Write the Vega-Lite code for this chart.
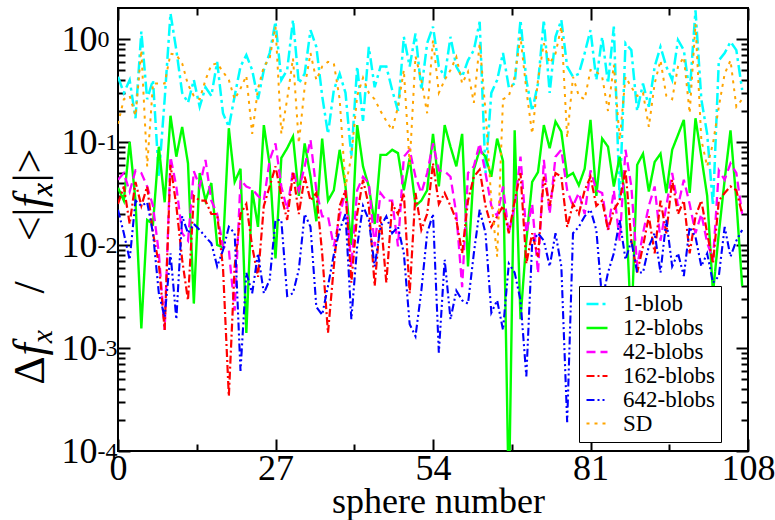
{
"$schema": "https://vega.github.io/schema/vega-lite/v6.json",
"width": 630, "height": 443,
"autosize": {"type": "none"},
"padding": {"left": 118, "top": 8, "right": 27, "bottom": 69},
"background": "white",
"config": {
  "font": "Liberation Serif",
  "style": {"guide-label": {"font": "Liberation Serif"}, "guide-title": {"font": "Liberation Serif"}},
  "view": {"stroke": "black", "strokeWidth": 2},
  "axis": {"grid": false, "domain": false, "labelFont": "Liberation Serif", "titleFont": "Liberation Serif", "labelColor": "black", "titleColor": "black", "tickColor": "black", "tickWidth": 2, "titleFontWeight": "normal", "labelOverlap": false},
  "legend": {"orient": "none", "legendX": 461, "legendY": 278}
},
"data": {"values": [
{"n":0,"s":"1-blob","v":0.43},{"n":1,"s":"1-blob","v":0.30},{"n":2,"s":"1-blob","v":0.40},{"n":3,"s":"1-blob","v":0.17},{"n":4,"s":"1-blob","v":1.18},{"n":5,"s":"1-blob","v":0.26},{"n":6,"s":"1-blob","v":0.40},{"n":7,"s":"1-blob","v":0.046},{"n":8,"s":"1-blob","v":0.26},{"n":9,"s":"1-blob","v":1.77},
{"n":10,"s":"1-blob","v":0.78},{"n":11,"s":"1-blob","v":0.30},{"n":12,"s":"1-blob","v":0.24},{"n":13,"s":"1-blob","v":0.40},{"n":14,"s":"1-blob","v":0.22},{"n":15,"s":"1-blob","v":0.34},{"n":16,"s":"1-blob","v":0.28},{"n":17,"s":"1-blob","v":0.60},{"n":18,"s":"1-blob","v":0.19},{"n":19,"s":"1-blob","v":0.14},
{"n":20,"s":"1-blob","v":0.28},{"n":21,"s":"1-blob","v":0.54},{"n":22,"s":"1-blob","v":0.70},{"n":23,"s":"1-blob","v":0.50},{"n":24,"s":"1-blob","v":0.26},{"n":25,"s":"1-blob","v":0.50},{"n":26,"s":"1-blob","v":0.73},{"n":27,"s":"1-blob","v":1.47},{"n":28,"s":"1-blob","v":0.40},{"n":29,"s":"1-blob","v":0.50},
{"n":30,"s":"1-blob","v":1.53},{"n":31,"s":"1-blob","v":0.37},{"n":32,"s":"1-blob","v":0.46},{"n":33,"s":"1-blob","v":1.22},{"n":34,"s":"1-blob","v":0.84},{"n":35,"s":"1-blob","v":0.28},{"n":36,"s":"1-blob","v":0.12},{"n":37,"s":"1-blob","v":0.32},{"n":38,"s":"1-blob","v":0.46},{"n":39,"s":"1-blob","v":0.30},
{"n":40,"s":"1-blob","v":0.072},{"n":41,"s":"1-blob","v":0.54},{"n":42,"s":"1-blob","v":0.16},{"n":43,"s":"1-blob","v":0.84},{"n":44,"s":"1-blob","v":0.34},{"n":45,"s":"1-blob","v":0.54},{"n":46,"s":"1-blob","v":0.54},{"n":47,"s":"1-blob","v":0.32},{"n":48,"s":"1-blob","v":0.20},{"n":49,"s":"1-blob","v":1.05},
{"n":50,"s":"1-blob","v":0.54},{"n":51,"s":"1-blob","v":1.13},{"n":52,"s":"1-blob","v":0.32},{"n":53,"s":"1-blob","v":0.91},{"n":54,"s":"1-blob","v":1.32},{"n":55,"s":"1-blob","v":0.54},{"n":56,"s":"1-blob","v":0.43},{"n":57,"s":"1-blob","v":1.05},{"n":58,"s":"1-blob","v":0.54},{"n":59,"s":"1-blob","v":0.43},
{"n":60,"s":"1-blob","v":0.62},{"n":61,"s":"1-blob","v":0.78},{"n":62,"s":"1-blob","v":1.47},{"n":63,"s":"1-blob","v":0.05},{"n":64,"s":"1-blob","v":0.30},{"n":65,"s":"1-blob","v":0.40},{"n":66,"s":"1-blob","v":0.73},{"n":67,"s":"1-blob","v":0.34},{"n":68,"s":"1-blob","v":0.37},{"n":69,"s":"1-blob","v":1.53},
{"n":70,"s":"1-blob","v":0.40},{"n":71,"s":"1-blob","v":0.20},{"n":72,"s":"1-blob","v":0.37},{"n":73,"s":"1-blob","v":1.53},{"n":74,"s":"1-blob","v":0.30},{"n":75,"s":"1-blob","v":1.05},{"n":76,"s":"1-blob","v":1.53},{"n":77,"s":"1-blob","v":0.54},{"n":78,"s":"1-blob","v":0.43},{"n":79,"s":"1-blob","v":0.46},
{"n":80,"s":"1-blob","v":0.73},{"n":81,"s":"1-blob","v":1.22},{"n":82,"s":"1-blob","v":0.40},{"n":83,"s":"1-blob","v":1.05},{"n":84,"s":"1-blob","v":0.37},{"n":85,"s":"1-blob","v":1.32},{"n":86,"s":"1-blob","v":0.027},{"n":87,"s":"1-blob","v":0.91},{"n":88,"s":"1-blob","v":0.78},{"n":89,"s":"1-blob","v":0.20},
{"n":90,"s":"1-blob","v":0.37},{"n":91,"s":"1-blob","v":0.22},{"n":92,"s":"1-blob","v":0.54},{"n":93,"s":"1-blob","v":0.84},{"n":94,"s":"1-blob","v":0.54},{"n":95,"s":"1-blob","v":0.40},{"n":96,"s":"1-blob","v":0.98},{"n":97,"s":"1-blob","v":0.78},{"n":98,"s":"1-blob","v":0.30},{"n":99,"s":"1-blob","v":1.9},
{"n":100,"s":"1-blob","v":0.26},{"n":101,"s":"1-blob","v":0.12},{"n":102,"s":"1-blob","v":0.024},{"n":103,"s":"1-blob","v":0.62},{"n":104,"s":"1-blob","v":0.73},{"n":105,"s":"1-blob","v":0.94},{"n":106,"s":"1-blob","v":0.78},{"n":107,"s":"1-blob","v":0.32},
{"n":0,"s":"12-blobs","v":0.036},{"n":1,"s":"12-blobs","v":0.027},{"n":2,"s":"12-blobs","v":0.10},{"n":3,"s":"12-blobs","v":0.027},{"n":4,"s":"12-blobs","v":0.00155},{"n":5,"s":"12-blobs","v":0.0175},{"n":6,"s":"12-blobs","v":0.016},{"n":7,"s":"12-blobs","v":0.09},{"n":8,"s":"12-blobs","v":0.026},{"n":9,"s":"12-blobs","v":0.18},
{"n":10,"s":"12-blobs","v":0.072},{"n":11,"s":"12-blobs","v":0.14},{"n":12,"s":"12-blobs","v":0.062},{"n":13,"s":"12-blobs","v":0.0027},{"n":14,"s":"12-blobs","v":0.05},{"n":15,"s":"12-blobs","v":0.027},{"n":16,"s":"12-blobs","v":0.04},{"n":17,"s":"12-blobs","v":0.01},{"n":18,"s":"12-blobs","v":0.0095},{"n":19,"s":"12-blobs","v":0.136},
{"n":20,"s":"12-blobs","v":0.041},{"n":21,"s":"12-blobs","v":0.055},{"n":22,"s":"12-blobs","v":0.0014},{"n":23,"s":"12-blobs","v":0.034},{"n":24,"s":"12-blobs","v":0.015},{"n":25,"s":"12-blobs","v":0.146},{"n":26,"s":"12-blobs","v":0.06},{"n":27,"s":"12-blobs","v":0.0074},{"n":28,"s":"12-blobs","v":0.07},{"n":29,"s":"12-blobs","v":0.087},
{"n":30,"s":"12-blobs","v":0.113},{"n":31,"s":"12-blobs","v":0.03},{"n":32,"s":"12-blobs","v":0.097},{"n":33,"s":"12-blobs","v":0.046},{"n":34,"s":"12-blobs","v":0.017},{"n":35,"s":"12-blobs","v":0.108},{"n":36,"s":"12-blobs","v":0.027},{"n":37,"s":"12-blobs","v":0.034},{"n":38,"s":"12-blobs","v":0.084},{"n":39,"s":"12-blobs","v":0.037},
{"n":40,"s":"12-blobs","v":0.01},{"n":41,"s":"12-blobs","v":0.146},{"n":42,"s":"12-blobs","v":0.058},{"n":43,"s":"12-blobs","v":0.037},{"n":44,"s":"12-blobs","v":0.016},{"n":45,"s":"12-blobs","v":0.075},{"n":46,"s":"12-blobs","v":0.075},{"n":47,"s":"12-blobs","v":0.084},{"n":48,"s":"12-blobs","v":0.078},{"n":49,"s":"12-blobs","v":0.034},
{"n":50,"s":"12-blobs","v":0.07},{"n":51,"s":"12-blobs","v":0.024},{"n":52,"s":"12-blobs","v":0.027},{"n":53,"s":"12-blobs","v":0.034},{"n":54,"s":"12-blobs","v":0.12},{"n":55,"s":"12-blobs","v":0.037},{"n":56,"s":"12-blobs","v":0.146},{"n":57,"s":"12-blobs","v":0.09},{"n":58,"s":"12-blobs","v":0.058},{"n":59,"s":"12-blobs","v":0.12},
{"n":60,"s":"12-blobs","v":0.0062},{"n":61,"s":"12-blobs","v":0.054},{"n":62,"s":"12-blobs","v":0.084},{"n":63,"s":"12-blobs","v":0.072},{"n":64,"s":"12-blobs","v":0.046},{"n":65,"s":"12-blobs","v":0.108},{"n":66,"s":"12-blobs","v":0.065},{"n":67,"s":"12-blobs","v":0.00003},{"n":68,"s":"12-blobs","v":0.13},{"n":69,"s":"12-blobs","v":0.0019},
{"n":70,"s":"12-blobs","v":0.011},{"n":71,"s":"12-blobs","v":0.041},{"n":72,"s":"12-blobs","v":0.051},{"n":73,"s":"12-blobs","v":0.146},{"n":74,"s":"12-blobs","v":0.087},{"n":75,"s":"12-blobs","v":0.158},{"n":76,"s":"12-blobs","v":0.126},{"n":77,"s":"12-blobs","v":0.046},{"n":78,"s":"12-blobs","v":0.05},{"n":79,"s":"12-blobs","v":0.038},
{"n":80,"s":"12-blobs","v":0.055},{"n":81,"s":"12-blobs","v":0.164},{"n":82,"s":"12-blobs","v":0.03},{"n":83,"s":"12-blobs","v":0.108},{"n":84,"s":"12-blobs","v":0.09},{"n":85,"s":"12-blobs","v":0.037},{"n":86,"s":"12-blobs","v":0.072},{"n":87,"s":"12-blobs","v":0.027},{"n":88,"s":"12-blobs","v":0.0015},{"n":89,"s":"12-blobs","v":0.06},
{"n":90,"s":"12-blobs","v":0.077},{"n":91,"s":"12-blobs","v":0.033},{"n":92,"s":"12-blobs","v":0.064},{"n":93,"s":"12-blobs","v":0.077},{"n":94,"s":"12-blobs","v":0.032},{"n":95,"s":"12-blobs","v":0.084},{"n":96,"s":"12-blobs","v":0.117},{"n":97,"s":"12-blobs","v":0.164},{"n":98,"s":"12-blobs","v":0.032},{"n":99,"s":"12-blobs","v":0.17},
{"n":100,"s":"12-blobs","v":0.072},{"n":101,"s":"12-blobs","v":0.03},{"n":102,"s":"12-blobs","v":0.0034},{"n":103,"s":"12-blobs","v":0.013},{"n":104,"s":"12-blobs","v":0.043},{"n":105,"s":"12-blobs","v":0.13},{"n":106,"s":"12-blobs","v":0.027},{"n":107,"s":"12-blobs","v":0.004},
{"n":0,"s":"42-blobs","v":0.043},{"n":1,"s":"42-blobs","v":0.05},{"n":2,"s":"42-blobs","v":0.033},{"n":3,"s":"42-blobs","v":0.053},{"n":4,"s":"42-blobs","v":0.05},{"n":5,"s":"42-blobs","v":0.037},{"n":6,"s":"42-blobs","v":0.024},{"n":7,"s":"42-blobs","v":0.0083},{"n":8,"s":"42-blobs","v":0.0015},{"n":9,"s":"42-blobs","v":0.072},
{"n":10,"s":"42-blobs","v":0.037},{"n":11,"s":"42-blobs","v":0.013},{"n":12,"s":"42-blobs","v":0.011},{"n":13,"s":"42-blobs","v":0.052},{"n":14,"s":"42-blobs","v":0.037},{"n":15,"s":"42-blobs","v":0.067},{"n":16,"s":"42-blobs","v":0.027},{"n":17,"s":"42-blobs","v":0.02},{"n":18,"s":"42-blobs","v":0.0097},{"n":19,"s":"42-blobs","v":0.009},
{"n":20,"s":"42-blobs","v":0.0023},{"n":21,"s":"42-blobs","v":0.043},{"n":22,"s":"42-blobs","v":0.037},{"n":23,"s":"42-blobs","v":0.035},{"n":24,"s":"42-blobs","v":0.03},{"n":25,"s":"42-blobs","v":0.027},{"n":26,"s":"42-blobs","v":0.067},{"n":27,"s":"42-blobs","v":0.097},{"n":28,"s":"42-blobs","v":0.037},{"n":29,"s":"42-blobs","v":0.022},
{"n":30,"s":"42-blobs","v":0.053},{"n":31,"s":"42-blobs","v":0.034},{"n":32,"s":"42-blobs","v":0.058},{"n":33,"s":"42-blobs","v":0.105},{"n":34,"s":"42-blobs","v":0.034},{"n":35,"s":"42-blobs","v":0.019},{"n":36,"s":"42-blobs","v":0.019},{"n":37,"s":"42-blobs","v":0.0097},{"n":38,"s":"42-blobs","v":0.019},{"n":39,"s":"42-blobs","v":0.034},
{"n":40,"s":"42-blobs","v":0.0062},{"n":41,"s":"42-blobs","v":0.034},{"n":42,"s":"42-blobs","v":0.046},{"n":43,"s":"42-blobs","v":0.04},{"n":44,"s":"42-blobs","v":0.0097},{"n":45,"s":"42-blobs","v":0.032},{"n":46,"s":"42-blobs","v":0.027},{"n":47,"s":"42-blobs","v":0.027},{"n":48,"s":"42-blobs","v":0.0097},{"n":49,"s":"42-blobs","v":0.072},
{"n":50,"s":"42-blobs","v":0.084},{"n":51,"s":"42-blobs","v":0.046},{"n":52,"s":"42-blobs","v":0.032},{"n":53,"s":"42-blobs","v":0.05},{"n":54,"s":"42-blobs","v":0.097},{"n":55,"s":"42-blobs","v":0.053},{"n":56,"s":"42-blobs","v":0.052},{"n":57,"s":"42-blobs","v":0.046},{"n":58,"s":"42-blobs","v":0.02},{"n":59,"s":"42-blobs","v":0.0039},
{"n":60,"s":"42-blobs","v":0.05},{"n":61,"s":"42-blobs","v":0.058},{"n":62,"s":"42-blobs","v":0.097},{"n":63,"s":"42-blobs","v":0.05},{"n":64,"s":"42-blobs","v":0.024},{"n":65,"s":"42-blobs","v":0.019},{"n":66,"s":"42-blobs","v":0.037},{"n":67,"s":"42-blobs","v":0.013},{"n":68,"s":"42-blobs","v":0.024},{"n":69,"s":"42-blobs","v":0.072},
{"n":70,"s":"42-blobs","v":0.013},{"n":71,"s":"42-blobs","v":0.025},{"n":72,"s":"42-blobs","v":0.0053},{"n":73,"s":"42-blobs","v":0.067},{"n":74,"s":"42-blobs","v":0.02},{"n":75,"s":"42-blobs","v":0.072},{"n":76,"s":"42-blobs","v":0.084},{"n":77,"s":"42-blobs","v":0.034},{"n":78,"s":"42-blobs","v":0.024},{"n":79,"s":"42-blobs","v":0.032},
{"n":80,"s":"42-blobs","v":0.02},{"n":81,"s":"42-blobs","v":0.053},{"n":82,"s":"42-blobs","v":0.034},{"n":83,"s":"42-blobs","v":0.032},{"n":84,"s":"42-blobs","v":0.014},{"n":85,"s":"42-blobs","v":0.034},{"n":86,"s":"42-blobs","v":0.011},{"n":87,"s":"42-blobs","v":0.084},{"n":88,"s":"42-blobs","v":0.037},{"n":89,"s":"42-blobs","v":0.0062},
{"n":90,"s":"42-blobs","v":0.013},{"n":91,"s":"42-blobs","v":0.024},{"n":92,"s":"42-blobs","v":0.037},{"n":93,"s":"42-blobs","v":0.011},{"n":94,"s":"42-blobs","v":0.024},{"n":95,"s":"42-blobs","v":0.05},{"n":96,"s":"42-blobs","v":0.024},{"n":97,"s":"42-blobs","v":0.043},{"n":98,"s":"42-blobs","v":0.025},{"n":99,"s":"42-blobs","v":0.013},
{"n":100,"s":"42-blobs","v":0.02},{"n":101,"s":"42-blobs","v":0.0105},{"n":102,"s":"42-blobs","v":0.0072},{"n":103,"s":"42-blobs","v":0.053},{"n":104,"s":"42-blobs","v":0.043},{"n":105,"s":"42-blobs","v":0.062},{"n":106,"s":"42-blobs","v":0.05},{"n":107,"s":"42-blobs","v":0.02},
{"n":0,"s":"162-blobs","v":0.025},{"n":1,"s":"162-blobs","v":0.037},{"n":2,"s":"162-blobs","v":0.016},{"n":3,"s":"162-blobs","v":0.041},{"n":4,"s":"162-blobs","v":0.024},{"n":5,"s":"162-blobs","v":0.037},{"n":6,"s":"162-blobs","v":0.013},{"n":7,"s":"162-blobs","v":0.0066},{"n":8,"s":"162-blobs","v":0.0015},{"n":9,"s":"162-blobs","v":0.06},
{"n":10,"s":"162-blobs","v":0.024},{"n":11,"s":"162-blobs","v":0.0072},{"n":12,"s":"162-blobs","v":0.0029},{"n":13,"s":"162-blobs","v":0.03},{"n":14,"s":"162-blobs","v":0.027},{"n":15,"s":"162-blobs","v":0.027},{"n":16,"s":"162-blobs","v":0.02},{"n":17,"s":"162-blobs","v":0.02},{"n":18,"s":"162-blobs","v":0.006},{"n":19,"s":"162-blobs","v":0.00034},
{"n":20,"s":"162-blobs","v":0.0062},{"n":21,"s":"162-blobs","v":0.02},{"n":22,"s":"162-blobs","v":0.025},{"n":23,"s":"162-blobs","v":0.0097},{"n":24,"s":"162-blobs","v":0.0049},{"n":25,"s":"162-blobs","v":0.024},{"n":26,"s":"162-blobs","v":0.037},{"n":27,"s":"162-blobs","v":0.058},{"n":28,"s":"162-blobs","v":0.03},{"n":29,"s":"162-blobs","v":0.0175},
{"n":30,"s":"162-blobs","v":0.05},{"n":31,"s":"162-blobs","v":0.02},{"n":32,"s":"162-blobs","v":0.046},{"n":33,"s":"162-blobs","v":0.027},{"n":34,"s":"162-blobs","v":0.032},{"n":35,"s":"162-blobs","v":0.0083},{"n":36,"s":"162-blobs","v":0.0014},{"n":37,"s":"162-blobs","v":0.0062},{"n":38,"s":"162-blobs","v":0.024},{"n":39,"s":"162-blobs","v":0.034},
{"n":40,"s":"162-blobs","v":0.0043},{"n":41,"s":"162-blobs","v":0.02},{"n":42,"s":"162-blobs","v":0.043},{"n":43,"s":"162-blobs","v":0.024},{"n":44,"s":"162-blobs","v":0.004},{"n":45,"s":"162-blobs","v":0.019},{"n":46,"s":"162-blobs","v":0.0043},{"n":47,"s":"162-blobs","v":0.025},{"n":48,"s":"162-blobs","v":0.02},{"n":49,"s":"162-blobs","v":0.032},
{"n":50,"s":"162-blobs","v":0.0034},{"n":51,"s":"162-blobs","v":0.032},{"n":52,"s":"162-blobs","v":0.014},{"n":53,"s":"162-blobs","v":0.02},{"n":54,"s":"162-blobs","v":0.062},{"n":55,"s":"162-blobs","v":0.025},{"n":56,"s":"162-blobs","v":0.032},{"n":57,"s":"162-blobs","v":0.024},{"n":58,"s":"162-blobs","v":0.0175},{"n":59,"s":"162-blobs","v":0.0083},
{"n":60,"s":"162-blobs","v":0.027},{"n":61,"s":"162-blobs","v":0.046},{"n":62,"s":"162-blobs","v":0.054},{"n":63,"s":"162-blobs","v":0.024},{"n":64,"s":"162-blobs","v":0.015},{"n":65,"s":"162-blobs","v":0.019},{"n":66,"s":"162-blobs","v":0.024},{"n":67,"s":"162-blobs","v":0.013},{"n":68,"s":"162-blobs","v":0.027},{"n":69,"s":"162-blobs","v":0.05},
{"n":70,"s":"162-blobs","v":0.0066},{"n":71,"s":"162-blobs","v":0.013},{"n":72,"s":"162-blobs","v":0.0077},{"n":73,"s":"162-blobs","v":0.046},{"n":74,"s":"162-blobs","v":0.024},{"n":75,"s":"162-blobs","v":0.05},{"n":76,"s":"162-blobs","v":0.046},{"n":77,"s":"162-blobs","v":0.015},{"n":78,"s":"162-blobs","v":0.025},{"n":79,"s":"162-blobs","v":0.02},
{"n":80,"s":"162-blobs","v":0.034},{"n":81,"s":"162-blobs","v":0.046},{"n":82,"s":"162-blobs","v":0.024},{"n":83,"s":"162-blobs","v":0.027},{"n":84,"s":"162-blobs","v":0.014},{"n":85,"s":"162-blobs","v":0.022},{"n":86,"s":"162-blobs","v":0.027},{"n":87,"s":"162-blobs","v":0.054},{"n":88,"s":"162-blobs","v":0.011},{"n":89,"s":"162-blobs","v":0.0054},
{"n":90,"s":"162-blobs","v":0.0097},{"n":91,"s":"162-blobs","v":0.019},{"n":92,"s":"162-blobs","v":0.0083},{"n":93,"s":"162-blobs","v":0.027},{"n":94,"s":"162-blobs","v":0.013},{"n":95,"s":"162-blobs","v":0.043},{"n":96,"s":"162-blobs","v":0.02},{"n":97,"s":"162-blobs","v":0.027},{"n":98,"s":"162-blobs","v":0.0083},{"n":99,"s":"162-blobs","v":0.019},
{"n":100,"s":"162-blobs","v":0.027},{"n":101,"s":"162-blobs","v":0.013},{"n":102,"s":"162-blobs","v":0.0066},{"n":103,"s":"162-blobs","v":0.027},{"n":104,"s":"162-blobs","v":0.032},{"n":105,"s":"162-blobs","v":0.037},{"n":106,"s":"162-blobs","v":0.034},{"n":107,"s":"162-blobs","v":0.02},
{"n":0,"s":"642-blobs","v":0.022},{"n":1,"s":"642-blobs","v":0.013},{"n":2,"s":"642-blobs","v":0.0072},{"n":3,"s":"642-blobs","v":0.027},{"n":4,"s":"642-blobs","v":0.024},{"n":5,"s":"642-blobs","v":0.026},{"n":6,"s":"642-blobs","v":0.013},{"n":7,"s":"642-blobs","v":0.0034},{"n":8,"s":"642-blobs","v":0.002},{"n":9,"s":"642-blobs","v":0.0083},
{"n":10,"s":"642-blobs","v":0.0019},{"n":11,"s":"642-blobs","v":0.019},{"n":12,"s":"642-blobs","v":0.013},{"n":13,"s":"642-blobs","v":0.016},{"n":14,"s":"642-blobs","v":0.014},{"n":15,"s":"642-blobs","v":0.012},{"n":16,"s":"642-blobs","v":0.0104},{"n":17,"s":"642-blobs","v":0.0062},{"n":18,"s":"642-blobs","v":0.0089},{"n":19,"s":"642-blobs","v":0.015},
{"n":20,"s":"642-blobs","v":0.013},{"n":21,"s":"642-blobs","v":0.0006},{"n":22,"s":"642-blobs","v":0.0054},{"n":23,"s":"642-blobs","v":0.0034},{"n":24,"s":"642-blobs","v":0.0083},{"n":25,"s":"642-blobs","v":0.0034},{"n":26,"s":"642-blobs","v":0.0046},{"n":27,"s":"642-blobs","v":0.0175},{"n":28,"s":"642-blobs","v":0.0175},{"n":29,"s":"642-blobs","v":0.0032},
{"n":30,"s":"642-blobs","v":0.0034},{"n":31,"s":"642-blobs","v":0.0058},{"n":32,"s":"642-blobs","v":0.02},{"n":33,"s":"642-blobs","v":0.015},{"n":34,"s":"642-blobs","v":0.0025},{"n":35,"s":"642-blobs","v":0.0021},{"n":36,"s":"642-blobs","v":0.004},{"n":37,"s":"642-blobs","v":0.0081},{"n":38,"s":"642-blobs","v":0.014},{"n":39,"s":"642-blobs","v":0.02},
{"n":40,"s":"642-blobs","v":0.0019},{"n":41,"s":"642-blobs","v":0.0097},{"n":42,"s":"642-blobs","v":0.024},{"n":43,"s":"642-blobs","v":0.0175},{"n":44,"s":"642-blobs","v":0.0062},{"n":45,"s":"642-blobs","v":0.015},{"n":46,"s":"642-blobs","v":0.019},{"n":47,"s":"642-blobs","v":0.013},{"n":48,"s":"642-blobs","v":0.015},{"n":49,"s":"642-blobs","v":0.0083},
{"n":50,"s":"642-blobs","v":0.0017},{"n":51,"s":"642-blobs","v":0.0013},{"n":52,"s":"642-blobs","v":0.0036},{"n":53,"s":"642-blobs","v":0.013},{"n":54,"s":"642-blobs","v":0.02},{"n":55,"s":"642-blobs","v":0.0009},{"n":56,"s":"642-blobs","v":0.0072},{"n":57,"s":"642-blobs","v":0.0019},{"n":58,"s":"642-blobs","v":0.0036},{"n":59,"s":"642-blobs","v":0.0029},
{"n":60,"s":"642-blobs","v":0.0027},{"n":61,"s":"642-blobs","v":0.0083},{"n":62,"s":"642-blobs","v":0.022},{"n":63,"s":"642-blobs","v":0.013},{"n":64,"s":"642-blobs","v":0.0022},{"n":65,"s":"642-blobs","v":0.0029},{"n":66,"s":"642-blobs","v":0.0015},{"n":67,"s":"642-blobs","v":0.0066},{"n":68,"s":"642-blobs","v":0.0054},{"n":69,"s":"642-blobs","v":0.0029},
{"n":70,"s":"642-blobs","v":0.00053},{"n":71,"s":"642-blobs","v":0.0104},{"n":72,"s":"642-blobs","v":0.013},{"n":73,"s":"642-blobs","v":0.011},{"n":74,"s":"642-blobs","v":0.0062},{"n":75,"s":"642-blobs","v":0.013},{"n":76,"s":"642-blobs","v":0.0062},{"n":77,"s":"642-blobs","v":0.00019},{"n":78,"s":"642-blobs","v":0.013},{"n":79,"s":"642-blobs","v":0.015},
{"n":80,"s":"642-blobs","v":0.019},{"n":81,"s":"642-blobs","v":0.022},{"n":82,"s":"642-blobs","v":0.014},{"n":83,"s":"642-blobs","v":0.0029},{"n":84,"s":"642-blobs","v":0.0054},{"n":85,"s":"642-blobs","v":0.0083},{"n":86,"s":"642-blobs","v":0.0175},{"n":87,"s":"642-blobs","v":0.0072},{"n":88,"s":"642-blobs","v":0.011},{"n":89,"s":"642-blobs","v":0.0054},
{"n":90,"s":"642-blobs","v":0.0054},{"n":91,"s":"642-blobs","v":0.0097},{"n":92,"s":"642-blobs","v":0.013},{"n":93,"s":"642-blobs","v":0.0054},{"n":94,"s":"642-blobs","v":0.0175},{"n":95,"s":"642-blobs","v":0.0062},{"n":96,"s":"642-blobs","v":0.0083},{"n":97,"s":"642-blobs","v":0.005},{"n":98,"s":"642-blobs","v":0.015},{"n":99,"s":"642-blobs","v":0.012},
{"n":100,"s":"642-blobs","v":0.0062},{"n":101,"s":"642-blobs","v":0.0083},{"n":102,"s":"642-blobs","v":0.0043},{"n":103,"s":"642-blobs","v":0.005},{"n":104,"s":"642-blobs","v":0.015},{"n":105,"s":"642-blobs","v":0.0077},{"n":106,"s":"642-blobs","v":0.011},{"n":107,"s":"642-blobs","v":0.014},
{"n":0,"s":"SD","v":0.15},{"n":1,"s":"SD","v":0.26},{"n":2,"s":"SD","v":0.28},{"n":3,"s":"SD","v":0.18},{"n":4,"s":"SD","v":0.78},{"n":5,"s":"SD","v":0.058},{"n":6,"s":"SD","v":0.37},{"n":7,"s":"SD","v":0.37},{"n":8,"s":"SD","v":0.37},{"n":9,"s":"SD","v":0.72},
{"n":10,"s":"SD","v":0.70},{"n":11,"s":"SD","v":0.58},{"n":12,"s":"SD","v":0.36},{"n":13,"s":"SD","v":0.28},{"n":14,"s":"SD","v":0.26},{"n":15,"s":"SD","v":0.40},{"n":16,"s":"SD","v":0.56},{"n":17,"s":"SD","v":0.58},{"n":18,"s":"SD","v":0.48},{"n":19,"s":"SD","v":0.40},
{"n":20,"s":"SD","v":0.26},{"n":21,"s":"SD","v":0.33},{"n":22,"s":"SD","v":0.44},{"n":23,"s":"SD","v":0.12},{"n":24,"s":"SD","v":0.33},{"n":25,"s":"SD","v":0.54},{"n":26,"s":"SD","v":0.65},{"n":27,"s":"SD","v":1.32},{"n":28,"s":"SD","v":0.12},{"n":29,"s":"SD","v":0.26},
{"n":30,"s":"SD","v":0.65},{"n":31,"s":"SD","v":0.097},{"n":32,"s":"SD","v":0.34},{"n":33,"s":"SD","v":0.73},{"n":34,"s":"SD","v":0.40},{"n":35,"s":"SD","v":0.54},{"n":36,"s":"SD","v":0.60},{"n":37,"s":"SD","v":0.58},{"n":38,"s":"SD","v":0.26},{"n":39,"s":"SD","v":0.037},
{"n":40,"s":"SD","v":0.072},{"n":41,"s":"SD","v":0.28},{"n":42,"s":"SD","v":0.42},{"n":43,"s":"SD","v":0.30},{"n":44,"s":"SD","v":0.26},{"n":45,"s":"SD","v":0.20},{"n":46,"s":"SD","v":0.16},{"n":47,"s":"SD","v":0.13},{"n":48,"s":"SD","v":0.22},{"n":49,"s":"SD","v":0.50},
{"n":50,"s":"SD","v":0.06},{"n":51,"s":"SD","v":0.68},{"n":52,"s":"SD","v":0.40},{"n":53,"s":"SD","v":0.19},{"n":54,"s":"SD","v":0.98},{"n":55,"s":"SD","v":0.30},{"n":56,"s":"SD","v":0.40},{"n":57,"s":"SD","v":0.50},{"n":58,"s":"SD","v":0.67},{"n":59,"s":"SD","v":0.37},
{"n":60,"s":"SD","v":0.48},{"n":61,"s":"SD","v":0.24},{"n":62,"s":"SD","v":0.91},{"n":63,"s":"SD","v":0.20},{"n":64,"s":"SD","v":0.027},{"n":65,"s":"SD","v":0.0077},{"n":66,"s":"SD","v":0.26},{"n":67,"s":"SD","v":0.28},{"n":68,"s":"SD","v":0.43},{"n":69,"s":"SD","v":1.05},
{"n":70,"s":"SD","v":0.32},{"n":71,"s":"SD","v":0.12},{"n":72,"s":"SD","v":0.40},{"n":73,"s":"SD","v":0.91},{"n":74,"s":"SD","v":0.58},{"n":75,"s":"SD","v":0.72},{"n":76,"s":"SD","v":1.32},{"n":77,"s":"SD","v":0.11},{"n":78,"s":"SD","v":0.43},{"n":79,"s":"SD","v":0.28},
{"n":80,"s":"SD","v":0.26},{"n":81,"s":"SD","v":0.50},{"n":82,"s":"SD","v":0.48},{"n":83,"s":"SD","v":0.43},{"n":84,"s":"SD","v":0.20},{"n":85,"s":"SD","v":0.56},{"n":86,"s":"SD","v":0.105},{"n":87,"s":"SD","v":0.43},{"n":88,"s":"SD","v":0.34},{"n":89,"s":"SD","v":0.28},
{"n":90,"s":"SD","v":0.30},{"n":91,"s":"SD","v":0.14},{"n":92,"s":"SD","v":0.37},{"n":93,"s":"SD","v":0.62},{"n":94,"s":"SD","v":0.28},{"n":95,"s":"SD","v":0.26},{"n":96,"s":"SD","v":0.54},{"n":97,"s":"SD","v":0.67},{"n":98,"s":"SD","v":0.19},{"n":99,"s":"SD","v":1.4},
{"n":100,"s":"SD","v":0.105},{"n":101,"s":"SD","v":0.058},{"n":102,"s":"SD","v":0.097},{"n":103,"s":"SD","v":0.22},{"n":104,"s":"SD","v":0.46},{"n":105,"s":"SD","v":0.62},{"n":106,"s":"SD","v":0.22},{"n":107,"s":"SD","v":0.26}
]},
"layer": [
  {
    "mark": {"type": "line", "clip": true},
    "encoding": {
      "x": {"field": "n", "type": "quantitative", "scale": {"domain": [0, 108], "nice": false, "zero": false},
            "axis": {"orient": "bottom", "values": [0, 27, 54, 81, 108], "ticks": false, "labelFont": "Liberation Serif", "labelFontSize": 36, "labelBaseline": "alphabetic", "labelPadding": 28, "labelFlush": false, "title": "sphere number", "titleFont": "Liberation Serif", "titleFontSize": 36, "titleBaseline": "alphabetic", "titleY": 61, "titleX": 320}},
      "y": {"field": "v", "type": "quantitative", "scale": {"type": "log", "domain": [0.0001, 2], "nice": false},
            "axis": {"orient": "left", "values": [0.0001, 0.001, 0.01, 0.1, 1], "ticks": false, "labelExpr": "'10'", "labelFont": "Liberation Serif", "labelFontSize": 36, "labelPadding": 21, "labelDy": 9,
                     "title": "Δ", "titleFont": "Liberation Serif", "titleFontSize": 44, "titleAngle": -90, "titleAlign": "center", "titleBaseline": "alphabetic", "titleX": -75, "titleY": 362}},
      "color": {"field": "s", "type": "nominal", "scale": {"domain": ["1-blob", "12-blobs", "42-blobs", "162-blobs", "642-blobs", "SD"], "range": ["#00FFFF", "#00FF00", "#FF00FF", "#FF0000", "#0000FF", "#FFA500"]},
                "legend": {"title": null, "orient": "none", "legendX": 461, "legendY": 278, "symbolType": "stroke", "symbolSize": 441, "symbolStrokeWidth": 2.5, "labelFont": "Liberation Serif", "labelFontSize": 23, "labelColor": "black", "labelOffset": 14, "rowPadding": 0, "padding": 6, "strokeColor": "black", "fillColor": "white", "labelLimit": 300}},
      "strokeDash": {"field": "s", "type": "nominal", "scale": {"domain": ["1-blob", "12-blobs", "42-blobs", "162-blobs", "642-blobs", "SD"], "range": [[12, 4, 3, 4], [1, 0], [9, 5], [8, 3, 2, 3], [8, 3, 2, 3, 2, 3], [3, 5]]},
                "legend": {"title": null, "orient": "none", "legendX": 461, "legendY": 278, "symbolType": "stroke", "symbolSize": 441, "symbolStrokeWidth": 2.5, "labelFont": "Liberation Serif", "labelFontSize": 23, "labelColor": "black", "labelOffset": 14, "rowPadding": 0, "padding": 6, "strokeColor": "black", "fillColor": "white", "labelLimit": 300}},
      "strokeWidth": {"field": "s", "type": "nominal", "scale": {"domain": ["1-blob", "12-blobs", "42-blobs", "162-blobs", "642-blobs", "SD"], "range": [2.5, 2, 2, 2, 2, 3]}, "legend": null}
    }
  },
  {
    "transform": [{"filter": "datum.n == 0 && datum.s == 'SD'"}],
    "mark": {"type": "point", "opacity": 0},
    "encoding": {
      "x": {"field": "n", "type": "quantitative", "scale": {"domain": [0, 108], "nice": false, "zero": false},
            "axis": {"orient": "bottom", "values": [0, 27, 54, 81, 108], "labels": false, "tickSize": -12,
                     "title": "x", "titleFont": "Liberation Serif", "titleFontStyle": "italic", "titleFontSize": 30, "titleAngle": -90, "titleAlign": "center", "titleBaseline": "alphabetic", "titleX": -67, "titleY": -262}},
      "y": {"field": "v", "type": "quantitative", "scale": {"type": "log", "domain": [0.0001, 2], "nice": false},
            "axis": {"orient": "left", "values": [0.0001, 0.001, 0.01, 0.1, 1], "ticks": false, "labelExpr": "datum.value > 0.5 ? '0' : datum.value > 0.05 ? '-1' : datum.value > 0.005 ? '-2' : datum.value > 0.0005 ? '-3' : '-4'", "labelFont": "Liberation Serif", "labelFontSize": 24, "labelAlign": "left", "labelPadding": 21, "labelDy": -7,
                     "title": "f", "titleFont": "Liberation Serif", "titleFontStyle": "italic", "titleFontSize": 44, "titleAngle": -90, "titleAlign": "center", "titleBaseline": "alphabetic", "titleX": -75, "titleY": 341}}
    }
  },
  {
    "transform": [{"filter": "datum.n == 0 && datum.s == 'SD'"}],
    "mark": {"type": "point", "opacity": 0},
    "encoding": {
      "x": {"field": "n", "type": "quantitative", "scale": {"domain": [0, 108], "nice": false, "zero": false},
            "axis": {"orient": "top", "values": [0, 27, 54, 81, 108], "labels": false, "tickSize": -12, "title": null}},
      "y": {"field": "v", "type": "quantitative", "scale": {"type": "log", "domain": [0.0001, 2], "nice": false},
            "axis": {"orient": "left", "values": [0.0001, 0.001, 0.01, 0.1, 1], "labels": false, "tickSize": -12,
                     "title": "x", "titleFont": "Liberation Serif", "titleFontStyle": "italic", "titleFontSize": 30, "titleAngle": -90, "titleAlign": "center", "titleBaseline": "alphabetic", "titleX": -67, "titleY": 328}}
    }
  },
  {
    "transform": [{"filter": "datum.n == 0 && datum.s == 'SD'"}],
    "mark": {"type": "point", "opacity": 0},
    "encoding": {
      "x": {"field": "n", "type": "quantitative", "scale": {"domain": [0, 108], "nice": false, "zero": false},
            "axis": {"orient": "bottom", "values": [13.5, 40.5, 67.5, 94.5], "labels": false, "tickSize": -7,
                     "title": "|>", "titleFont": "Liberation Serif", "titleFontSize": 44, "titleAngle": -90, "titleAlign": "center", "titleBaseline": "alphabetic", "titleX": -75, "titleY": -286}},
      "y": {"field": "v", "type": "quantitative", "scale": {"type": "log", "domain": [0.0001, 2], "nice": false},
            "axis": {"orient": "left", "values": [0.0002,0.0003,0.0004,0.0005,0.0006,0.0007,0.0008,0.0009,0.002,0.003,0.004,0.005,0.006,0.007,0.008,0.009,0.02,0.03,0.04,0.05,0.06,0.07,0.08,0.09,0.2,0.3,0.4,0.5,0.6,0.7,0.8,0.9], "labels": false, "tickSize": -7,
                     "title": "/", "titleFont": "Liberation Serif", "titleFontSize": 44, "titleAngle": -90, "titleAlign": "center", "titleBaseline": "alphabetic", "titleX": -75, "titleY": 279}}
    }
  },
  {
    "transform": [{"filter": "datum.n == 0 && datum.s == 'SD'"}],
    "mark": {"type": "point", "opacity": 0},
    "encoding": {
      "x": {"field": "n", "type": "quantitative", "scale": {"domain": [0, 108], "nice": false, "zero": false},
            "axis": {"orient": "top", "values": [13.5, 40.5, 67.5, 94.5], "labels": false, "tickSize": -7, "title": null}},
      "y": {"field": "v", "type": "quantitative", "scale": {"type": "log", "domain": [0.0001, 2], "nice": false},
            "axis": {"orient": "right", "values": [0.0001, 0.001, 0.01, 0.1, 1], "labels": false, "tickSize": -12,
                     "title": "<|", "titleFont": "Liberation Serif", "titleFontSize": 44, "titleAngle": -90, "titleAlign": "center", "titleBaseline": "alphabetic", "titleX": -705, "titleY": 216}}
    }
  },
  {
    "transform": [{"filter": "datum.n == 0 && datum.s == 'SD'"}],
    "mark": {"type": "point", "opacity": 0},
    "encoding": {
      "x": {"field": "n", "type": "quantitative", "scale": {"domain": [0, 108], "nice": false, "zero": false}, "axis": null},
      "y": {"field": "v", "type": "quantitative", "scale": {"type": "log", "domain": [0.0001, 2], "nice": false},
            "axis": {"orient": "right", "values": [0.0002,0.0003,0.0004,0.0005,0.0006,0.0007,0.0008,0.0009,0.002,0.003,0.004,0.005,0.006,0.007,0.008,0.009,0.02,0.03,0.04,0.05,0.06,0.07,0.08,0.09,0.2,0.3,0.4,0.5,0.6,0.7,0.8,0.9], "labels": false, "tickSize": -7,
                     "title": "f", "titleFont": "Liberation Serif", "titleFontStyle": "italic", "titleFontSize": 44, "titleAngle": -90, "titleAlign": "center", "titleBaseline": "alphabetic", "titleX": -705, "titleY": 193}}
    }
  },
  {
    "transform": [{"filter": "datum.n == 0 && datum.s == 'SD'"}],
    "mark": {"type": "point", "opacity": 0},
    "encoding": {
      "x": {"field": "n", "type": "quantitative", "scale": {"domain": [0, 108], "nice": false, "zero": false},
            "axis": {"orient": "top", "ticks": false, "labels": false,
                     "title": "x", "titleFont": "Liberation Serif", "titleFontStyle": "italic", "titleFontSize": 30, "titleAngle": -90, "titleAlign": "center", "titleBaseline": "alphabetic", "titleX": -67, "titleY": 181}},
      "y": {"field": "v", "type": "quantitative", "scale": {"type": "log", "domain": [0.0001, 2], "nice": false}, "axis": null}
    }
  }
],
"resolve": {"axis": {"x": "independent", "y": "independent"}}
}
